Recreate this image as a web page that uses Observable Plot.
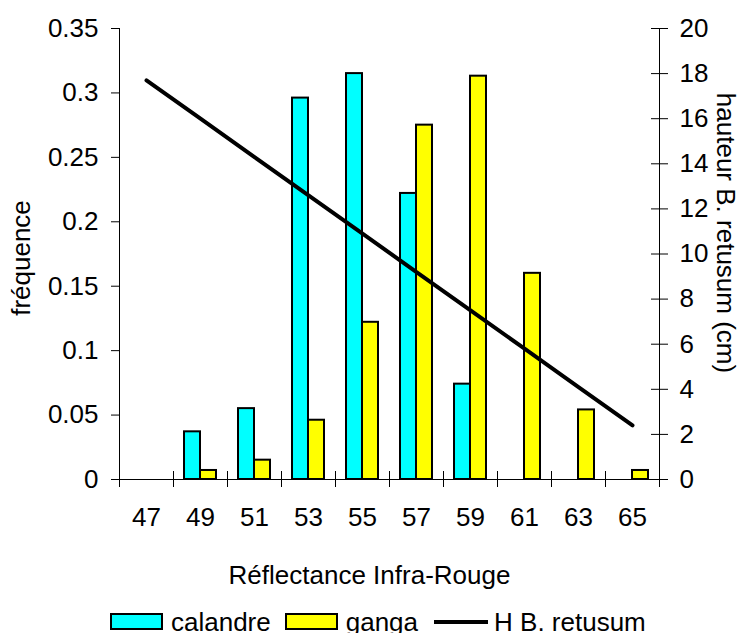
<!DOCTYPE html>
<html><head><meta charset="utf-8">
<script src="https://cdn.jsdelivr.net/npm/d3@7"></script>
<script src="https://cdn.jsdelivr.net/npm/@observablehq/plot@0.6"></script>
<style>
body{margin:0;background:#fff;font-family:"Liberation Sans",Arial,sans-serif;}
#wrap{position:relative;width:745px;height:633px;overflow:hidden;}
#legend{position:absolute;left:110px;top:609px;display:flex;align-items:flex-start;font-size:26px;line-height:26px;color:#000;white-space:nowrap;}
.sw{width:49px;height:13px;border:2px solid #000;margin-top:4px;margin-right:8px;}
.ln{width:54px;height:4px;background:#000;margin-top:11px;margin-right:6px;}
.item{display:flex;align-items:flex-start;margin-right:14px;}
</style></head><body>
<div id="wrap"><div id="chart"></div>
<div id="legend">
  <div class="item"><div class="sw" style="background:#00ffff"></div><span>calandre</span></div>
  <div class="item"><div class="sw" style="background:#ffff00"></div><span>ganga</span></div>
  <div class="item" style="margin-left:2px"><div class="ln"></div><span>H B. retusum</span></div>
</div></div>
<script>
const categories = ["47","49","51","53","55","57","59","61","63","65"];
const calandre = [null, 0.037, 0.055, 0.296, 0.315, 0.222, 0.074, null, null, null];
const ganga    = [null, 0.007, 0.015, 0.046, 0.122, 0.275, 0.313, 0.160, 0.054, 0.007];
const hauteur  = [17.7, 16.0, 14.3, 12.6, 10.9, 9.2, 7.5, 5.8, 4.1, 2.4];
const leftTicks = [0, 0.05, 0.1, 0.15, 0.2, 0.25, 0.3, 0.35];
const rightTicks = [0, 2, 4, 6, 8, 10, 12, 14, 16, 18, 20];
const yMax = 0.35, hMax = 20;

const W = 745, H = 633, ml = 119, mr = 86, mt = 28, mb = H - 479;
const bw = (W - ml - mr) / categories.length;
const toY = h => h * yMax / hMax;

const rows = categories.map((c, i) => ({cat: c, cal: calandre[i], gan: ganga[i], h: hauteur[i], hy: toY(hauteur[i])}));

const chart = Plot.plot({
  width: W, height: H,
  marginLeft: ml, marginRight: mr, marginTop: mt, marginBottom: mb,
  style: {fontFamily: '"Liberation Sans", Arial, sans-serif', fontSize: "26px", color: "black", background: "white"},
  x: {type: "band", domain: categories, padding: 0},
  y: {domain: [0, yMax]},
  marks: [
    Plot.barY(rows.filter(d => d.cal != null), {x: "cat", y: "cal", fill: "#00ffff", stroke: "black", strokeWidth: 2, insetLeft: 11, insetRight: 27}),
    Plot.barY(rows.filter(d => d.gan != null), {x: "cat", y: "gan", fill: "#ffff00", stroke: "black", strokeWidth: 2, insetLeft: 27, insetRight: 11}),
    Plot.line(rows, {x: "cat", y: "hy", stroke: "black", strokeWidth: 4}),
    // axis lines
    Plot.ruleY([0], {stroke: "black"}),
    Plot.ruleX([categories[0]], {y1: 0, y2: yMax, dx: -bw / 2, stroke: "black"}),
    Plot.ruleX([categories[categories.length - 1]], {y1: 0, y2: yMax, dx: bw / 2, stroke: "black"}),
    // left axis
    Plot.axisY({anchor: "left", ticks: leftTicks, tickSize: 8, tickPadding: 13, tickFormat: d => String(+d.toFixed(2)), label: null, stroke: "black"}),
    // right axis
    Plot.axisY({anchor: "right", ticks: rightTicks.map(toY), tickSize: 17, dx: -9, tickFormat: () => "", label: null, stroke: "black"}),
    Plot.axisY({anchor: "right", ticks: rightTicks.map(toY), tickSize: 0, tickPadding: 20, tickFormat: d => String(Math.round(d * hMax / yMax)), label: null}),
    // x axis ticks at category boundaries
    Plot.axisX({anchor: "bottom", ticks: categories, tickSize: 16, dx: -bw / 2, dy: -8, tickFormat: () => "", label: null, stroke: "black"}),
    Plot.axisX({anchor: "bottom", ticks: [categories[categories.length - 1]], tickSize: 16, dx: bw / 2, dy: -8, tickFormat: () => "", label: null, stroke: "black"}),
    Plot.axisX({anchor: "bottom", ticks: categories, tickSize: 0, tickPadding: 28, label: null}),
    // axis titles
    Plot.text(["Réflectance Infra-Rouge"], {frameAnchor: "bottom", lineAnchor: "top", textAnchor: "middle", dx: -20, dy: 86, fill: "black"}),
    Plot.text(["fréquence"], {frameAnchor: "left", textAnchor: "middle", rotate: -90, dx: -98, dy: 4, fill: "black"}),
    Plot.text(["hauteur B. retusum (cm)"], {frameAnchor: "right", textAnchor: "middle", rotate: 90, dx: 66, dy: -21, fill: "black"})
  ]
});
document.getElementById("chart").appendChild(chart);
</script>
</body></html>
